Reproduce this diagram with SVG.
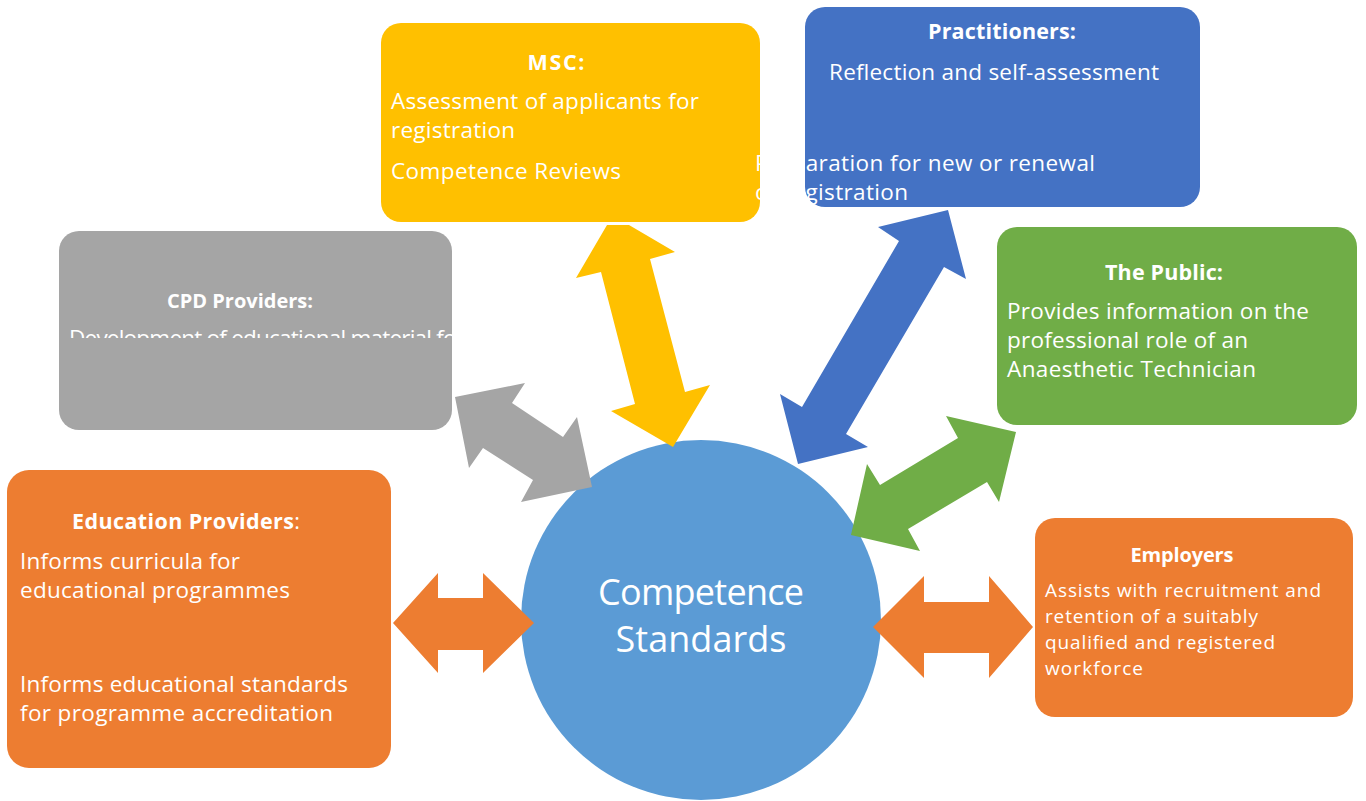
<svg xmlns="http://www.w3.org/2000/svg" width="1366" height="801" viewBox="0 0 1366 801">
<style>
  text { font-family: "Open Sans", "Noto Sans", "Liberation Sans", sans-serif; fill: #ffffff; }
  .h { font-weight: bold; text-anchor: middle; font-size: 21.5px; }
  .hs { font-weight: bold; text-anchor: middle; font-size: 20px; }
  .b { font-size: 22.5px; }
  .s { font-size: 19px; }
  .c { font-size: 36px; text-anchor: middle; }
  .yellow { fill: #FFC000; }
  .blue { fill: #4472C4; }
  .gray { fill: #A5A5A5; }
  .green { fill: #70AD47; }
  .orange { fill: #ED7D31; }
  .circle { fill: #5B9BD5; }
</style>
<defs>
  <clipPath id="cpdclip"><rect x="59" y="231" width="393" height="107"/></clipPath>
</defs>
<rect width="1366" height="801" fill="#ffffff"/>

<g id="center">
  <circle class="circle" cx="701" cy="620" r="180"/>
  <text class="c" x="701" y="605" textLength="206">Competence</text>
  <text class="c" x="701" y="652" textLength="171">Standards</text>
</g>

<g id="connectors">
  <polygon class="orange" points="393,623 438,573 438,598 483,598 483,573 534,623 483,673 483,650 438,650 438,673"/>
  <polygon class="orange" points="873,627 924,576 924,602 989,602 989,576 1033,627 989,678 989,653 924,653 924,678"/>
  <polygon class="yellow" points="607,225 629,225 675,252 650,259 685,392 710,385 673,447 611,411 635,404 601,272 576,278"/>
  <polygon class="blue" points="948,210 966,279 944,267 846,434 868,447 798,464 780,394 802,407 899,241 878,227"/>
  <polygon class="gray" points="455,397 525,383 512,403 563,437 577,417 592,487 521,502 533,480 483,448 469,468"/>
  <polygon class="green" points="1016,432 999,502 987,482 908,529 920,551 851,535 867,464 880,485 958,438 946,416"/>
</g>

<g id="cpd">
  <rect class="gray" x="59" y="231" width="393" height="199" rx="20"/>
  <text class="hs" x="240" y="308" textLength="146">CPD Providers:</text>
  <text class="b" x="69" y="346" clip-path="url(#cpdclip)" textLength="396">Development of educational material for</text>
</g>

<g id="msc">
  <rect class="yellow" x="381" y="23" width="379" height="199" rx="20"/>
  <text class="h" x="556" y="70" textLength="57">MSC:</text>
  <text class="b" x="391" y="109" textLength="308">Assessment of applicants for</text>
  <text class="b" x="391" y="138" textLength="124">registration</text>
  <text class="b" x="391" y="179" textLength="230">Competence Reviews</text>
</g>

<g id="practitioners">
  <rect class="blue" x="805" y="7" width="395" height="200" rx="20"/>
  <text class="h" x="1002" y="39" textLength="148">Practitioners:</text>
  <text class="b" x="829" y="80" textLength="330">Reflection and self-assessment</text>
  <text class="b" x="755" y="171" textLength="340">Preparation for new or renewal</text>
  <text class="b" x="755" y="200" textLength="153">of registration</text>
</g>

<g id="public">
  <rect class="green" x="997" y="227" width="360" height="198" rx="20"/>
  <text class="h" x="1164" y="280" textLength="118">The Public:</text>
  <text class="b" x="1007" y="319" textLength="302">Provides information on the</text>
  <text class="b" x="1007" y="348" textLength="241">professional role of an</text>
  <text class="b" x="1007" y="377" textLength="249">Anaesthetic Technician</text>
</g>

<g id="education">
  <rect class="orange" x="7" y="470" width="384" height="298" rx="22"/>
  <text x="186" y="529" style="font-size:21.5px;text-anchor:middle" textLength="228"><tspan font-weight="bold">Education Providers</tspan>:</text>
  <text class="b" x="20" y="569" textLength="220">Informs curricula for</text>
  <text class="b" x="20" y="598" textLength="270">educational programmes</text>
  <text class="b" x="20" y="692" textLength="328">Informs educational standards</text>
  <text class="b" x="20" y="721" textLength="313">for programme accreditation</text>
</g>

<g id="employers">
  <rect class="orange" x="1035" y="518" width="318" height="199" rx="20"/>
  <text class="hs" x="1182" y="562" textLength="103">Employers</text>
  <text class="s" x="1045" y="597" textLength="276">Assists with recruitment and</text>
  <text class="s" x="1045" y="623" textLength="213">retention of a suitably</text>
  <text class="s" x="1045" y="649" textLength="230">qualified and registered</text>
  <text class="s" x="1045" y="675" textLength="98">workforce</text>
</g>
</svg>
